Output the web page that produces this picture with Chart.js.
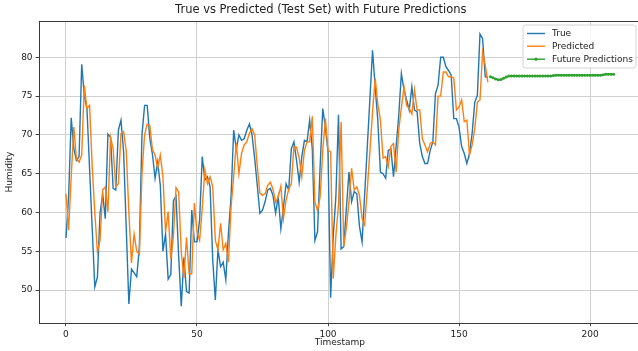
<!DOCTYPE html>
<html>
<head>
<meta charset="utf-8">
<script src="https://cdn.jsdelivr.net/npm/chart.js@4/dist/chart.umd.min.js"></script>
<style>
  html, body { margin: 0; padding: 0; background: #ffffff; }
  #wrap { width: 638px; height: 351px; overflow: hidden; position: relative; }
  canvas { display: block; }
</style>
</head>
<body>
<div id="wrap"><canvas id="chart" width="645" height="351"></canvas></div>
<script>
// Test-set humidity readings and the model's predictions, one value per timestamp
const trueValues = [
  56.7, 62, 72.2, 68.2, 66.7, 67.2, 79.1, 75, 73.4, 65.7,
  58, 50.4, 51.7, 59.9, 62.4, 59.2, 70.1, 69.7, 63.1, 62.9,
  70.6, 71.9, 67.8, 58, 48.2, 52.7, 52.2, 51.7, 55.5, 70,
  73.8, 73.8, 69.5, 67.5, 64.4, 66.5, 63.5, 55, 57.2, 51.4,
  52, 61.5, 62.1, 54.4, 47.9, 54.2, 49.8, 49.6, 60.3, 56.2,
  56.2, 59, 67.2, 64.2, 64.6, 63.3, 53.9, 48.7, 55.2, 53,
  53.6, 51.3, 57.3, 62, 70.6, 68.2, 70, 69.3, 69.5, 70.6,
  71.4, 70, 67, 63.5, 59.9, 60.3, 61.4, 62.9, 63.1, 62.2,
  59.9, 62, 57.9, 60.7, 63.7, 62.9, 68.2, 69.1, 66.7, 63.9,
  67.2, 69.3, 69.1, 71.9, 68.2, 56.4, 57.5, 66, 73.4, 71,
  67.8, 49, 57, 62, 72.6, 55.3, 55.6, 60.5, 65.2, 61.4,
  62.7, 62.4, 58.2, 56.2, 62.4, 68.5, 74.7, 80.9, 76.2, 71.9,
  65.2, 65, 64.4, 68, 68.2, 64.6, 68.5, 72.5, 77.9, 75.8,
  74.5, 73.2, 76.2, 73.2, 73, 68.9, 67.2, 66.3, 66.3, 68,
  69.1, 75.3, 76.4, 80, 80, 78.8, 78.3, 77.7, 72.1, 72.1,
  71, 68.5, 67.6, 66.3, 67.6, 70.2, 74.2, 75.1, 83, 82.4,
  77.5, 77.4
];

const predictedValues = [
  62.4, 57.7, 64.6, 71, 66.9, 66.5, 67.4, 76.4, 73.4, 73.8,
  66, 60, 54.9, 56.4, 62.9, 63.3, 60.1, 69.7, 68.2, 63.3,
  63.7, 70.2, 70.4, 67.9, 60, 53.5, 57.2, 55, 54.6, 65,
  70, 71.4, 71.2, 68.1, 67.4, 65.7, 67.4, 64.6, 57.5, 60.1,
  54, 56.9, 63.2, 62.6, 54.9, 51.6, 56.8, 52.1, 52.1, 61.2,
  57.5, 56.4, 60.5, 65.5, 63.7, 64.6, 63.3, 56.4, 55.2, 58.6,
  55.2, 56, 53.6, 60.7, 64.6, 68.9, 65, 67.6, 68.7, 69.1,
  70.2, 70.8, 70, 66, 62.5, 62.2, 62.4, 63.5, 63.9, 63,
  61.3, 62, 63.4, 59.2, 61.6, 63, 63.7, 68.5, 68.4, 67,
  64.6, 68, 69.1, 69.1, 72.4, 61.4, 60.2, 62, 68, 72.1,
  68, 67.8, 51.5, 57, 61, 71.7, 55.6, 58, 61.4, 65.7,
  62.9, 63.3, 62.2, 59.2, 58.4, 63, 68, 73, 77.3, 74,
  71.9, 67, 67.2, 65.9, 68.5, 68.9, 65.2, 70.6, 73.5, 76.2,
  73.8, 73.4, 72.7, 75.8, 73.2, 73.2, 69.5, 68.7, 67.8, 68.9,
  69.1, 68.7, 75, 75, 78.1, 78.1, 77.5, 77.5, 77.3, 73.2,
  73.6, 74.5, 71.7, 71.9, 67.4, 68.7, 70.8, 74.2, 74.5, 80.7,
  79, 76.8
];

// Forecast continuing past the end of the test set
const futureValues = [
  77.5, 77.35, 77.2, 77.1, 77.15, 77.3, 77.45, 77.6, 77.6, 77.6,
  77.6, 77.6, 77.6, 77.6, 77.6, 77.6, 77.6, 77.6, 77.6, 77.6,
  77.6, 77.6, 77.6, 77.6, 77.65, 77.7, 77.7, 77.7, 77.7, 77.7,
  77.7, 77.7, 77.7, 77.7, 77.7, 77.7, 77.7, 77.7, 77.7, 77.7,
  77.7, 77.7, 77.7, 77.75, 77.8, 77.8, 77.8, 77.8
];

const xTicks = [0, 50, 100, 150, 200];
const yTicks = [50, 55, 60, 65, 70, 75, 80];

const seriesNames = ['True', 'Predicted', 'Future Predictions'];
const chartTitle = 'True vs Predicted (Test Set) with Future Predictions';
const xLabel = 'Timestamp';
const yLabel = 'Humidity';

const BLUE = '#1f77b4', ORANGE = '#ff7f0e', GREEN = '#2ca02c';
const FONT = 'DejaVu Sans';
const TEXT = '#222222';

const futureStart = trueValues.length;
const toPoints = (arr, offset) => arr.map((v, i) => ({ x: i + offset, y: v }));

// Frame around the plotting area
const framePlugin = {
  id: 'frame',
  afterDatasetsDraw(chart) {
    const { ctx, chartArea: a } = chart;
    ctx.save();
    ctx.strokeStyle = '#3a3a3a';
    ctx.lineWidth = 1;
    ctx.strokeRect(Math.round(a.left) + 0.5, Math.round(a.top) + 0.5,
                   Math.round(a.right - a.left), Math.round(a.bottom - a.top));
    ctx.restore();
  }
};

// Legend box in the upper-right corner of the plot
const legendPlugin = {
  id: 'cornerLegend',
  afterDraw(chart) {
    const { ctx } = chart;
    const ds = chart.data.datasets;
    const x = 523, y = 25, w = 113, h = 43, r = 2.5;
    ctx.save();
    ctx.beginPath();
    ctx.moveTo(x + r, y);
    ctx.lineTo(x + w - r, y);
    ctx.arcTo(x + w, y, x + w, y + r, r);
    ctx.lineTo(x + w, y + h - r);
    ctx.arcTo(x + w, y + h, x + w - r, y + h, r);
    ctx.lineTo(x + r, y + h);
    ctx.arcTo(x, y + h, x, y + h - r, r);
    ctx.lineTo(x, y + r);
    ctx.arcTo(x, y, x + r, y, r);
    ctx.closePath();
    ctx.fillStyle = 'rgba(255,255,255,0.85)';
    ctx.fill();
    ctx.strokeStyle = '#d4d4d4';
    ctx.lineWidth = 1;
    ctx.stroke();

    ctx.font = '9px "' + FONT + '"';
    ctx.textBaseline = 'middle';
    ctx.textAlign = 'left';
    const rows = [33.5, 46.2, 59.2];
    ds.forEach((d, i) => {
      const ry = rows[i];
      ctx.strokeStyle = d.borderColor;
      ctx.lineWidth = 1.4;
      ctx.beginPath();
      ctx.moveTo(527, ry);
      ctx.lineTo(545, ry);
      ctx.stroke();
      if (d.pointRadius > 0) {
        ctx.fillStyle = d.borderColor;
        ctx.beginPath();
        ctx.arc(536, ry, 1.6, 0, Math.PI * 2);
        ctx.fill();
      }
      ctx.fillStyle = TEXT;
      ctx.fillText(d.label, 552, ry + 0.5);
    });
    ctx.restore();
  }
};

new Chart(document.getElementById('chart'), {
  type: 'line',
  data: {
    datasets: [
      {
        label: seriesNames[0],
        data: toPoints(trueValues, 0),
        borderColor: BLUE, backgroundColor: BLUE,
        borderWidth: 1.4, pointRadius: 0, tension: 0, order: 3
      },
      {
        label: seriesNames[1],
        data: toPoints(predictedValues, 0),
        borderColor: ORANGE, backgroundColor: ORANGE,
        borderWidth: 1.4, pointRadius: 0, tension: 0, order: 2
      },
      {
        label: seriesNames[2],
        data: toPoints(futureValues, futureStart),
        borderColor: GREEN, backgroundColor: GREEN,
        borderWidth: 1.4, pointRadius: 1.5, pointBorderWidth: 0,
        pointBackgroundColor: GREEN, tension: 0, order: 1
      }
    ]
  },
  options: {
    responsive: false,
    animation: false,
    devicePixelRatio: 1,
    layout: { padding: { left: 0, right: 3.4, top: 0, bottom: 0 } },
    plugins: {
      legend: { display: false },
      tooltip: { enabled: false },
      title: {
        display: true,
        text: chartTitle,
        color: TEXT,
        font: { family: FONT, size: 11.5, weight: 'normal' },
        padding: { top: 3.5, bottom: 3.7 }
      }
    },
    scales: {
      x: {
        type: 'linear',
        min: -10.45,
        max: 219.45,
        afterBuildTicks(scale) { scale.ticks = xTicks.map(v => ({ value: v })); },
        afterFit(scale) { scale.height = 27.8; },
        ticks: {
          color: TEXT, font: { family: FONT, size: 9 }, padding: 3,
          maxRotation: 0, includeBounds: false
        },
        grid: { color: '#d0d0d0', lineWidth: 1, tickColor: '#444', tickLength: 3, drawTicks: true },
        border: { display: false },
        title: {
          display: true, text: xLabel, color: TEXT,
          font: { family: FONT, size: 9 }, padding: { top: 0, bottom: 3.3 }
        }
      },
      y: {
        type: 'linear',
        min: 45.72,
        max: 84.68,
        afterBuildTicks(scale) { scale.ticks = yTicks.map(v => ({ value: v })); },
        afterFit(scale) { scale.width = 38.6; },
        ticks: { color: TEXT, font: { family: FONT, size: 9 }, padding: 3, includeBounds: false },
        grid: { color: '#d0d0d0', lineWidth: 1, tickColor: '#444', tickLength: 3, drawTicks: true },
        border: { display: false },
        title: {
          display: true, text: yLabel, color: TEXT,
          font: { family: FONT, size: 9 }, padding: { top: 4.5, bottom: 0 }
        }
      }
    }
  },
  plugins: [framePlugin, legendPlugin]
});
</script>
</body>
</html>
